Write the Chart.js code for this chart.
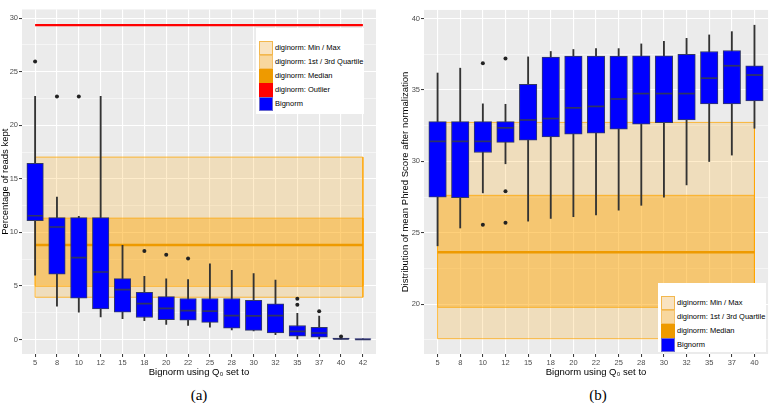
<!DOCTYPE html>
<html>
<head>
<meta charset="utf-8">
<script src="https://cdn.jsdelivr.net/npm/chart.js@4.4.1/dist/chart.umd.min.js"></script>
<style>
body{margin:0;background:#fff;width:778px;height:403px;overflow:hidden;position:relative;font-family:"Liberation Sans",Arial,sans-serif}
canvas{position:absolute;top:0}
#chartA{left:0}
#chartB{left:390px}
.cap{position:absolute;top:387px;width:40px;text-align:center;font-family:"Liberation Serif","Times New Roman",serif;font-size:15px;line-height:16px}
.lg{position:absolute;background:#fff}
.it{position:absolute;left:19px;font-size:7.5px;line-height:14px;color:#000;white-space:nowrap}
.k{position:absolute;left:-16px;top:0;width:14px;height:14px;box-sizing:border-box}
.k1{background:#f9e3c0;border:1px solid #f3b84e}
.k2{background:#f8d79e;border:1px solid #f5c168}
.k3{background:#ee9a00}
.k4{background:#ff0000}
.k5{background:#0000ff;border:1px solid #6a6ad0}
</style>
</head>
<body>
<canvas id="chartA" width="390" height="380"></canvas>
<canvas id="chartB" width="388" height="380"></canvas>

<div class="lg" style="left:256px;top:28px;width:108px;height:86px">
  <div class="it" style="top:13px"><span class="k k1"></span>diginorm: Min / Max</div>
  <div class="it" style="top:27px"><span class="k k2"></span>diginorm: 1st / 3rd Quartile</div>
  <div class="it" style="top:41px"><span class="k k3"></span>diginorm: Median</div>
  <div class="it" style="top:55px"><span class="k k4"></span>diginorm: Outlier</div>
  <div class="it" style="top:69px"><span class="k k5"></span>Bignorm</div>
</div>
<div class="lg" style="left:658px;top:283px;width:108px;height:69px">
  <div class="it" style="top:13px"><span class="k k1"></span>diginorm: Min / Max</div>
  <div class="it" style="top:27px"><span class="k k2"></span>diginorm: 1st / 3rd Quartile</div>
  <div class="it" style="top:41px"><span class="k k3"></span>diginorm: Median</div>
  <div class="it" style="top:55px"><span class="k k5"></span>Bignorm</div>
</div>

<div class="cap" style="left:179px">(a)</div>
<div class="cap" style="left:578px">(b)</div>

<script>
// (a) percentage of reads kept
const catsA = ['5','8','10','12','15','18','20','22','25','28','30','32','35','37','40','42'];
const lowA  = [6.0, 3.1, 2.55, 2.1, 1.95, 1.75, 1.4, 1.3, 1.15, 0.9, 0.8, 0.45, 0.0, 0.0, 0.0, 0.0];
const q1A   = [11.1, 6.1, 3.85, 2.85, 2.55, 2.05, 1.85, 1.8, 1.6, 1.05, 0.85, 0.6, 0.3, 0.21, 0.02, 0.0];
const medA  = [11.55, 10.5, 7.65, 6.3, 4.65, 3.35, 2.9, 2.7, 2.65, 2.22, 2.2, 2.22, 0.76, 0.6, 0.06, 0.0];
const q3A   = [16.45, 11.38, 11.38, 11.38, 5.68, 4.4, 4.0, 3.82, 3.82, 3.82, 3.66, 3.32, 1.3, 1.12, 0.12, 0.03];
const highA = [22.7, 13.3, 11.5, 22.7, 8.8, 5.9, 5.65, 5.6, 7.05, 6.45, 6.15, 5.55, 2.43, 2.18, 0.15, 0.03];
const outXA = ['5','8','10','18','20','22','35','35','37','40'];
const outYA = [25.97, 22.7, 22.7, 8.25, 7.9, 7.55, 3.24, 3.79, 2.64, 0.27];
const digMinMaxA = [3.94, 17.03];
const digQuartA = [4.97, 11.33];
const digMedianA = 8.82;
const digOutlierA = 29.36;

// (b) mean phred score
const catsB = ['5','8','10','12','15','18','20','22','25','28','30','32','35','37','40'];
const lowB  = [24.08, 25.33, 27.79, 29.83, 25.81, 26.0, 26.12, 26.24, 26.58, 26.92, 27.49, 28.35, 29.99, 30.44, 32.32];
const q1B   = [27.49, 27.45, 30.62, 31.33, 31.48, 31.71, 31.9, 31.98, 32.25, 32.6, 32.71, 32.9, 34.03, 34.03, 34.23];
const medB  = [31.4, 31.4, 31.4, 32.35, 32.9, 33.0, 33.75, 33.85, 34.37, 34.75, 34.75, 34.75, 35.83, 36.7, 36.05];
const q3B   = [32.78, 32.78, 32.78, 32.78, 35.39, 37.3, 37.37, 37.37, 37.37, 37.4, 37.4, 37.5, 37.7, 37.77, 36.7];
const highB = [36.19, 36.53, 34.03, 34.0, 37.32, 37.7, 37.84, 37.9, 37.9, 38.23, 38.41, 38.62, 38.86, 39.09, 39.54];
const outXB = ['10','10','12','12','12'];
const outYB = [36.87, 25.56, 37.2, 27.9, 25.7];
const digMinMaxB = [17.57, 32.73];
const digQuartB = [19.77, 27.62];
const digMedianB = 23.63;

Chart.defaults.font.family = '"Liberation Sans", Arial, sans-serif';

const panelBg = {
  id: 'panelBg',
  beforeDraw(chart) {
    const {ctx, chartArea: a} = chart;
    ctx.save();
    ctx.fillStyle = '#EBEBEB';
    ctx.fillRect(a.left, a.top, a.right - a.left, a.bottom - a.top);
    ctx.restore();
  }
};

// band filled between two values, plus its outline
function band(n, lohi, fillCol, order) {
  return [{
    type: 'line',
    data: [{x: 0, y: lohi[1]}, {x: n - 1, y: lohi[1]}],
    borderWidth: 0,
    backgroundColor: fillCol,
    fill: {value: lohi[0]},
    pointRadius: 0,
    order: order
  }, {
    type: 'line',
    data: [{x: 0, y: lohi[0]}, {x: 0, y: lohi[1]}, {x: n - 1, y: lohi[1]}, {x: n - 1, y: lohi[0]}, {x: 0, y: lohi[0]}],
    borderColor: 'rgba(255,165,0,0.75)',
    borderWidth: 1,
    fill: false,
    pointRadius: 0,
    order: order
  }];
}

function hline(n, v, col, w, order) {
  return {
    type: 'line',
    data: [{x: 0, y: v}, {x: n - 1, y: v}],
    borderColor: col,
    borderWidth: w,
    fill: false,
    pointRadius: 0,
    order: order
  };
}

function makeChart(id, d) {
  const n = d.cats.length;
  const idx = (arr) => arr.map((v, i) => ({x: i, y: v}));
  let datasets = [];
  datasets = datasets.concat(band(n, d.minmax, 'rgba(255,165,0,0.2)', 20));
  datasets = datasets.concat(band(n, d.quart, 'rgba(255,165,0,0.4)', 19));
  datasets.push(hline(n, d.median, '#EE9A00', 2.4, 18));
  if (d.outlier !== undefined) datasets.push(hline(n, d.outlier, '#FF0000', 2.2, 18));
  datasets.push({
    type: 'bar',
    data: d.low.map((v, i) => ({x: i, y: [v, d.high[i]]})),
    backgroundColor: '#333333',
    barThickness: 1.2,
    grouped: false,
    order: 10
  });
  datasets.push({
    type: 'bar',
    data: d.q1.map((v, i) => ({x: i, y: [v, d.q3[i]]})),
    backgroundColor: '#0000FF',
    borderColor: '#333a66',
    borderWidth: 1,
    borderSkipped: false,
    barThickness: d.boxW,
    grouped: false,
    order: 5
  });
  datasets.push({
    type: 'line',
    data: idx(d.med),
    showLine: false,
    pointStyle: 'line',
    pointRadius: d.boxW / 2 - 0.5,
    pointHoverRadius: d.boxW / 2 - 0.5,
    pointBorderWidth: 1.7,
    pointBorderColor: '#2e3366',
    order: 3
  });
  datasets.push({
    type: 'line',
    data: d.outY.map((v, i) => ({x: d.cats.indexOf(d.outX[i]), y: v})),
    showLine: false,
    pointStyle: 'circle',
    pointRadius: 2,
    pointBorderWidth: 0,
    pointBackgroundColor: '#222222',
    order: 2
  });

  return new Chart(document.getElementById(id), {
    type: 'bar',
    data: {datasets: datasets},
    plugins: [panelBg],
    options: {
      responsive: false,
      animation: false,
      devicePixelRatio: 1,
      layout: {padding: {left: 0, right: d.padRight, top: 0, bottom: 0}},
      plugins: {legend: {display: false}, tooltip: {enabled: false}},
      scales: {
        x: {
          type: 'linear',
          min: -0.6,
          max: n - 1 + 0.6,
          offset: false,
          border: {display: false},
          grid: {offset: false, color: '#FFFFFF', lineWidth: 1.1, tickColor: '#333333', tickLength: 3, tickWidth: 1},
          ticks: {autoSkip: false, maxRotation: 0, padding: 1, color: '#4D4D4D', font: {size: 7.5}, callback: (v) => d.cats[v]},
          afterBuildTicks: (s) => { s.ticks = d.cats.map((c, i) => ({value: i})); },
          afterFit: (s) => { s.height = 26; s.paddingLeft = 0; s.paddingRight = 0; },
          title: {display: true, text: 'Bignorm using Q\u2080 set to', color: '#000', font: {size: 9.5}, padding: {top: 0, bottom: 2.3}}
        },
        y: {
          min: d.yMin,
          max: d.yMax,
          border: {display: false},
          grid: {
            color: '#FFFFFF',
            lineWidth: (c) => (c.tick && c.tick.value % 5 === 0 ? 1.1 : 0.5),
            tickColor: (c) => (c.tick && c.tick.value % 5 === 0 ? '#333333' : 'rgba(0,0,0,0)'),
            tickLength: 3,
            tickWidth: 1
          },
          ticks: {padding: 1, color: '#4D4D4D', font: {size: 7.5}, callback: (v) => (v % 5 === 0 ? String(v) : '')},
          afterBuildTicks: (s) => {
            const t = [];
            for (let v = Math.ceil(s.min / 2.5) * 2.5; v <= s.max; v += 2.5) t.push({value: v});
            s.ticks = t;
          },
          afterFit: (s) => { s.width = d.axisW; s.paddingTop = 0; s.paddingBottom = 0; },
          title: {display: true, text: d.yTitle, color: '#000', font: {size: 9.5}, padding: {top: d.titlePad, bottom: 0}}
        }
      }
    }
  });
}

makeChart('chartA', {
  cats: catsA, low: lowA, q1: q1A, med: medA, q3: q3A, high: highA, outX: outXA, outY: outYA,
  minmax: digMinMaxA, quart: digQuartA, median: digMedianA, outlier: digOutlierA,
  yMin: -1.36, yMax: 30.82, boxW: 16.5, axisW: 22, padRight: 14, titlePad: 0,
  yTitle: 'Percentage of reads kept'
});

makeChart('chartB', {
  cats: catsB, low: lowB, q1: q1B, med: medB, q3: q3B, high: highB, outX: outXB, outY: outYB,
  minmax: digMinMaxB, quart: digQuartB, median: digMedianB,
  yMin: 16.5, yMax: 40.61, boxW: 17.5, axisW: 34, padRight: 0, titlePad: 9.3,
  yTitle: 'Distribution of mean Phred Score after normalization'
});
</script>
</body>
</html>
